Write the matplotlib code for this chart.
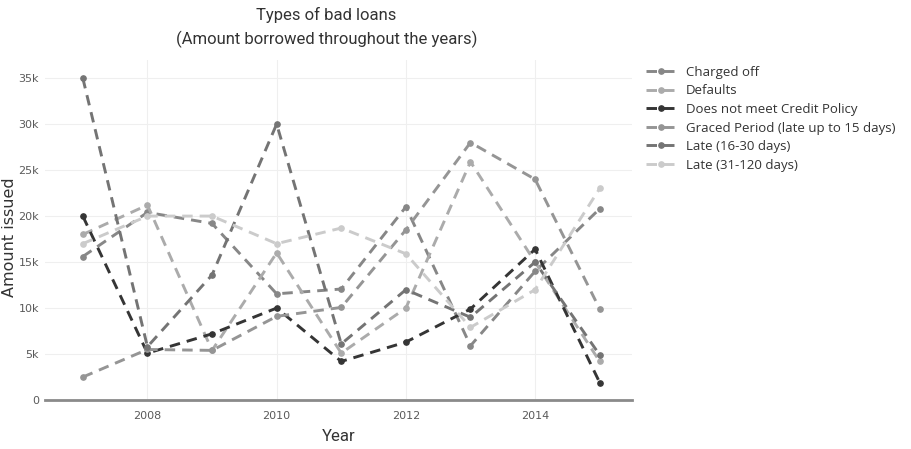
import matplotlib
matplotlib.use("Agg")
import matplotlib.pyplot as plt
from matplotlib.ticker import FuncFormatter, MultipleLocator

years = [2007, 2008, 2009, 2010, 2011, 2012, 2013, 2014, 2015]

charged_off = [15600, 20400, 19200, 11550, 12070, 21000, 5900, 14000, 20800]
defaults = [18000, 21200, 5400, 16000, 5100, 10000, 25900, 15000, 4200]
not_credit_policy = [20000, 5100, 7200, 10000, 4200, 6300, 9900, 16400, 1900]
graced_period = [2500, 5500, 5400, 9100, 10070, 18500, 28000, 24000, 9900]
late_16_30 = [35000, 5800, 13600, 30000, 6100, 12000, 9000, 15000, 4900]
late_31_120 = [17000, 20000, 20000, 17000, 18700, 15900, 7900, 12000, 23000]

series = [
    ("Charged off", charged_off, "#878787"),
    ("Defaults", defaults, "#ababab"),
    ("Does not meet Credit Policy", not_credit_policy, "#353535"),
    ("Graced Period (late up to 15 days)", graced_period, "#959595"),
    ("Late (16-30 days)", late_16_30, "#747474"),
    ("Late (31-120 days)", late_31_120, "#cbcbcb"),
]

title_font = ["Roboto", "DejaVu Sans"]

fig = plt.figure(figsize=(9.12, 4.49), dpi=100)
ax = fig.add_axes([0.049, 0.109, 0.644, 0.758])

for name, values, color in series:
    ax.plot(years, values, color=color, linestyle=(0, (3.6, 2.4)), linewidth=2.1,
            marker="o", markersize=3.8, label=name)

ax.set_xlim(2006.41, 2015.5)
ax.set_ylim(0, 37000)
ax.xaxis.set_major_locator(MultipleLocator(2))
ax.yaxis.set_major_locator(MultipleLocator(5000))
ax.yaxis.set_major_formatter(FuncFormatter(lambda v, p: "0" if v == 0 else f"{int(v / 1000)}k"))

ax.grid(True, color="#efefef", linewidth=0.8)
ax.set_axisbelow(True)
for side in ["top", "right", "left"]:
    ax.spines[side].set_visible(False)
ax.spines["bottom"].set_color("#8a8a8a")
ax.spines["bottom"].set_linewidth(2)
ax.tick_params(axis="both", length=0, labelsize=8, labelcolor="#5a5a5a", pad=4)
ax.tick_params(axis="x", pad=8)

ax.set_ylabel("Amount issued", fontsize=11.5, color="#333333")
ax.yaxis.set_label_coords(-0.047, 0.479)
ax.set_xlabel("Year", fontsize=12, color="#333333", family=title_font)
ax.xaxis.set_label_coords(0.5, -0.085)

fig.text(0.358, 0.967, "Types of bad loans", ha="center", va="center", fontsize=12,
         color="#333333", family=title_font)
fig.text(0.358, 0.913, "(Amount borrowed throughout the years)", ha="center", va="center", fontsize=12,
         color="#333333", family=title_font)

leg = fig.legend(loc="upper left", bbox_to_anchor=(0.703, 0.865), frameon=False,
                 prop={"family": ["Open Sans", "DejaVu Sans"], "size": 9.5},
                 handlelength=2.2, handletextpad=0.8, labelspacing=0.42, borderaxespad=0)
for text in leg.get_texts():
    text.set_color("#333333")

fig.savefig("out.png", dpi=100)
